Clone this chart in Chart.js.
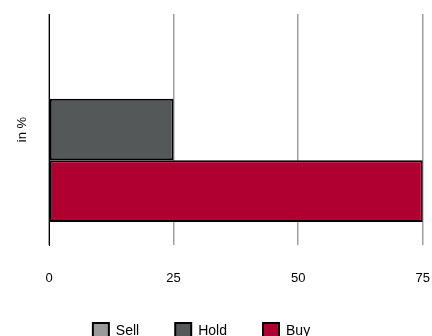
<!DOCTYPE html>
<html>
<head>
<meta charset="utf-8">
<script src="https://cdn.jsdelivr.net/npm/chart.js@4/dist/chart.umd.min.js"></script>
<style>
  html, body { margin: 0; padding: 0; background: #ffffff; }
  #wrap { width: 432px; height: 336px; }
</style>
</head>
<body>
<div id="wrap"><canvas id="ratingChart" width="432" height="336"></canvas></div>
<script>
const categories = ["in %"];
const seriesNames = ["Sell", "Hold", "Buy"];
const sellValues = [0];
const holdValues = [25];
const buyValues = [75];
const xTicks = [0, 25, 50, 75];

const seriesColors = ["#9a9a9a", "#545858", "#b00032"];
const fontFamily = "'Liberation Sans', Arial, sans-serif";

// fixed legend height + nudge it left, so it sits like in the reference
const legendPlacement = {
  id: "legendPlacement",
  beforeInit(chart) {
    const origFit = chart.legend.fit;
    chart.legend.fit = function () {
      origFit.call(this);
      this.height = 49;
    };
  },
  afterLayout(chart) {
    chart.legend.right -= 20;
  },
};

function buildRatingChart(ctx) {
  const values = [sellValues, holdValues, buyValues];
  return new Chart(ctx, {
    type: "bar",
    data: {
      labels: categories,
      datasets: seriesNames.map((name, i) => ({
        label: name,
        data: values[i],
        backgroundColor: seriesColors[i],
        borderColor: "#000000",
        borderWidth: 2,
        borderSkipped: false,
        categoryPercentage: 0.8,
        barPercentage: 1.0,
      })),
    },
    options: {
      indexAxis: "y",
      responsive: false,
      animation: false,
      layout: {
        padding: { top: 14, right: 9, left: 0, bottom: 0 },
      },
      plugins: {
        legend: {
          position: "bottom",
          labels: {
            color: "#000000",
            boxWidth: 16,
            boxHeight: 16,
            padding: 36,
            font: { family: fontFamily, size: 14 },
          },
        },
        tooltip: { enabled: false },
      },
      scales: {
        x: {
          min: 0,
          max: 75,
          afterBuildTicks(scale) {
            scale.ticks = xTicks.map((v) => ({ value: v }));
          },
          afterFit(scale) {
            scale.height = 42;
          },
          grid: {
            color: "#a0a0a0",
            lineWidth: 1.5,
            drawTicks: true,
            tickLength: 24,
            tickColor: "rgba(0,0,0,0)",
          },
          border: { display: false },
          ticks: {
            color: "#000000",
            padding: 2,
            font: { family: fontFamily, size: 13 },
          },
        },
        y: {
          afterFit(scale) {
            scale.width = 49;
          },
          grid: { display: false },
          border: { display: true, color: "#000000", width: 1 },
          ticks: { display: false },
          title: {
            display: true,
            text: "in %",
            color: "#000000",
            padding: { top: 15, bottom: 4 },
            font: { family: fontFamily, size: 13 },
          },
        },
      },
    },
    plugins: [legendPlacement],
  });
}

buildRatingChart(document.getElementById("ratingChart"));
</script>
</body>
</html>
